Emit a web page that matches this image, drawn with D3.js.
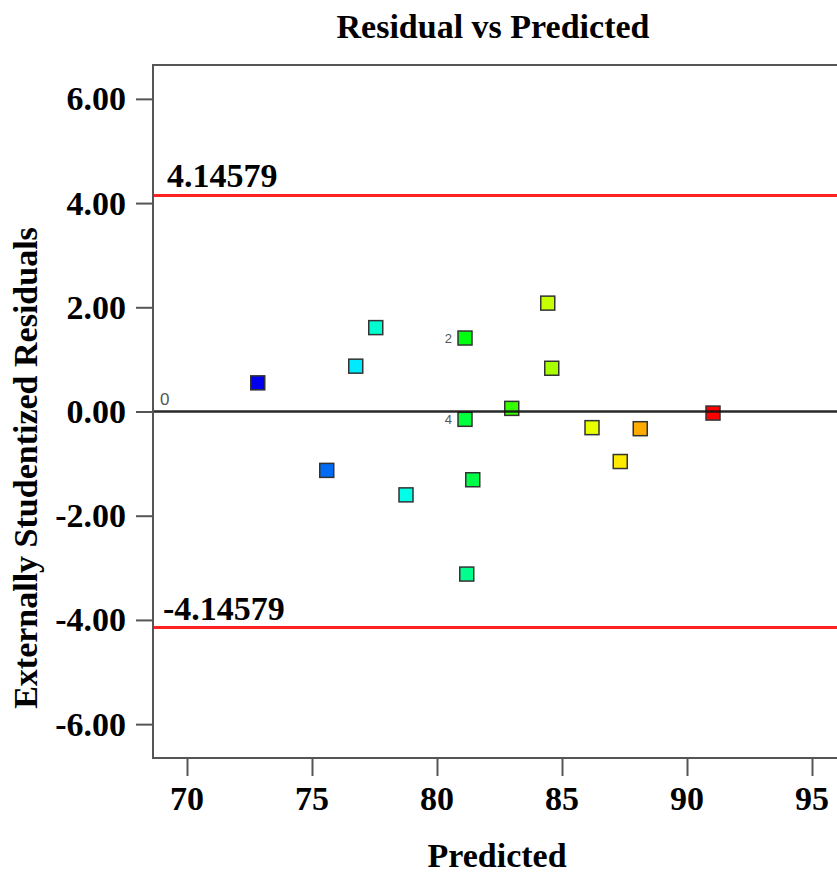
<!DOCTYPE html>
<html>
<head>
<meta charset="utf-8">
<script src="https://cdn.jsdelivr.net/npm/d3@7"></script>
<style>
  body { margin: 0; background: #fff; }
  svg { display: block; }
</style>
</head>
<body>
<div id="chart"></div>
<script>
// Data
const predicted = [72.83, 75.59, 76.75, 77.55, 78.76, 81.12, 81.12, 81.43, 81.19, 82.99, 84.43, 84.59, 86.20, 87.33, 88.13, 91.04];
const residuals = [0.55, -1.13, 0.87, 1.61, -1.60, 1.41, -0.15, -1.31, -3.12, 0.06, 2.08, 0.83, -0.31, -0.96, -0.33, -0.03];
// actual response, used only for the point colours
const actual = [73.1, 75.0, 77.2, 78.4, 78.0, 81.8, 81.0, 80.8, 79.6, 83.0, 85.5, 85.0, 86.1, 86.9, 88.0, 91.0];
// run labels shown next to some points
const pointLabels = ['', '', '', '', '', '2', '4', '', '', '', '', '', '', '', '', ''];

const xTicks = [70, 75, 80, 85, 90, 95];
const yTicks = [6, 4, 2, 0, -2, -4, -6];
const limits = [4.14579, -4.14579];

const width = 837, height = 875;
const margin = { top: 65, right: 0, bottom: 117, left: 153 };
const serif = '"Liberation Serif", "Times New Roman", serif';
const sans = '"Liberation Sans", Arial, sans-serif';

// plain hyphen for negatives, like the original
const fmt = spec => v => d3.format(spec)(v).replace('\u2212', '-');

// bold serif text helper
const bold = sel => sel
    .style('font-family', serif)
    .style('font-size', '34px')
    .style('font-weight', 'bold')
    .style('fill', '#000');

const svg = d3.select('#chart')
    .append('svg')
    .attr('width', width)
    .attr('height', height);

const x = d3.scaleLinear()
    .domain([68.64, 96])
    .range([margin.left, width - margin.right]);

const y = d3.scaleLinear()
    .domain([-6.65, 6.65])
    .range([height - margin.bottom, margin.top]);

const color = d3.scaleLinear()
    .domain(d3.range(5).map(i => d3.min(actual) + i * (d3.max(actual) - d3.min(actual)) / 4))
    .range(['#0000ee', '#00ffff', '#00ff00', '#ffff00', '#ff0000'])
    .interpolate(d3.interpolateRgb);

// Title
svg.append('text')
    .attr('x', 493)
    .attr('y', 38)
    .attr('text-anchor', 'middle')
    .call(bold)
    .text('Residual vs Predicted');

// Axes (ticks from d3, labels drawn below as plain text)
const xAxis = svg.append('g')
    .attr('transform', `translate(0,${height - margin.bottom})`)
    .call(d3.axisBottom(x).tickValues(xTicks).tickSize(18).tickFormat(''));

const yAxis = svg.append('g')
    .attr('transform', `translate(${margin.left},0)`)
    .call(d3.axisLeft(y).tickValues(yTicks).tickSize(17).tickFormat(''));

[xAxis, yAxis].forEach(g => {
    g.select('.domain').remove();
    g.selectAll('line').attr('stroke', '#555').attr('stroke-width', 2);
});

svg.append('g')
    .selectAll('text')
    .data(xTicks)
    .enter()
    .append('text')
    .attr('x', d => x(d))
    .attr('y', 810)
    .attr('text-anchor', 'middle')
    .call(bold)
    .text(fmt('d'));

svg.append('g')
    .selectAll('text')
    .data(yTicks)
    .enter()
    .append('text')
    .attr('x', margin.left - 27)
    .attr('y', d => y(d) + 11.5)
    .attr('text-anchor', 'end')
    .call(bold)
    .text(fmt('.2f'));

// Frame: left, bottom, top
const x0 = x.range()[0], x1 = x.range()[1];
const yTop = y.range()[1], yBot = y.range()[0];
svg.append('path')
    .attr('d', `M${x1},${yTop}H${x0}V${yBot}H${x1}`)
    .attr('fill', 'none')
    .attr('stroke', '#555')
    .attr('stroke-width', 2);

// Limit lines
svg.selectAll('.limit')
    .data(limits)
    .enter()
    .append('line')
    .attr('class', 'limit')
    .attr('x1', x0 + 1)
    .attr('x2', x1)
    .attr('y1', d => y(d))
    .attr('y2', d => y(d))
    .attr('stroke', '#ff2222')
    .attr('stroke-width', 3);

svg.selectAll('.limit-label')
    .data(limits)
    .enter()
    .append('text')
    .attr('x', d => d > 0 ? x0 + 14 : x0 + 10)
    .attr('y', d => y(d) - 8)
    .call(bold)
    .text(d => fmt('.5f')(d));

// Points
const points = predicted.map((p, i) => ({ p, r: residuals[i], a: actual[i], label: pointLabels[i] }));

svg.selectAll('.pt')
    .data(points)
    .enter()
    .append('rect')
    .attr('class', 'pt')
    .attr('x', d => x(d.p) - 7)
    .attr('y', d => y(d.r) - 7)
    .attr('width', 14)
    .attr('height', 14)
    .attr('fill', d => color(d.a))
    .attr('stroke', '#333')
    .attr('stroke-width', 1.5);

svg.selectAll('.pt-label')
    .data(points.filter(d => d.label))
    .enter()
    .append('text')
    .attr('x', d => x(d.p) - 13)
    .attr('y', d => y(d.r) + 5)
    .attr('text-anchor', 'end')
    .style('font-family', sans)
    .style('font-size', '13px')
    .style('fill', '#555')
    .text(d => d.label);

// Zero line
svg.append('line')
    .attr('x1', x0 + 1)
    .attr('x2', x1)
    .attr('y1', y(0))
    .attr('y2', y(0))
    .attr('stroke', '#111')
    .attr('stroke-width', 2.5)
    .attr('stroke-opacity', 0.9);

svg.append('text')
    .attr('x', x0 + 7)
    .attr('y', y(0) - 7)
    .style('font-family', sans)
    .style('font-size', '17px')
    .style('fill', '#555')
    .text('0');

// Axis titles
svg.append('text')
    .attr('x', 497)
    .attr('y', 867)
    .attr('text-anchor', 'middle')
    .call(bold)
    .text('Predicted');

svg.append('text')
    .attr('transform', `translate(37,${468}) rotate(-90)`)
    .attr('text-anchor', 'middle')
    .call(bold)
    .text('Externally Studentized Residuals');
</script>
</body>
</html>
